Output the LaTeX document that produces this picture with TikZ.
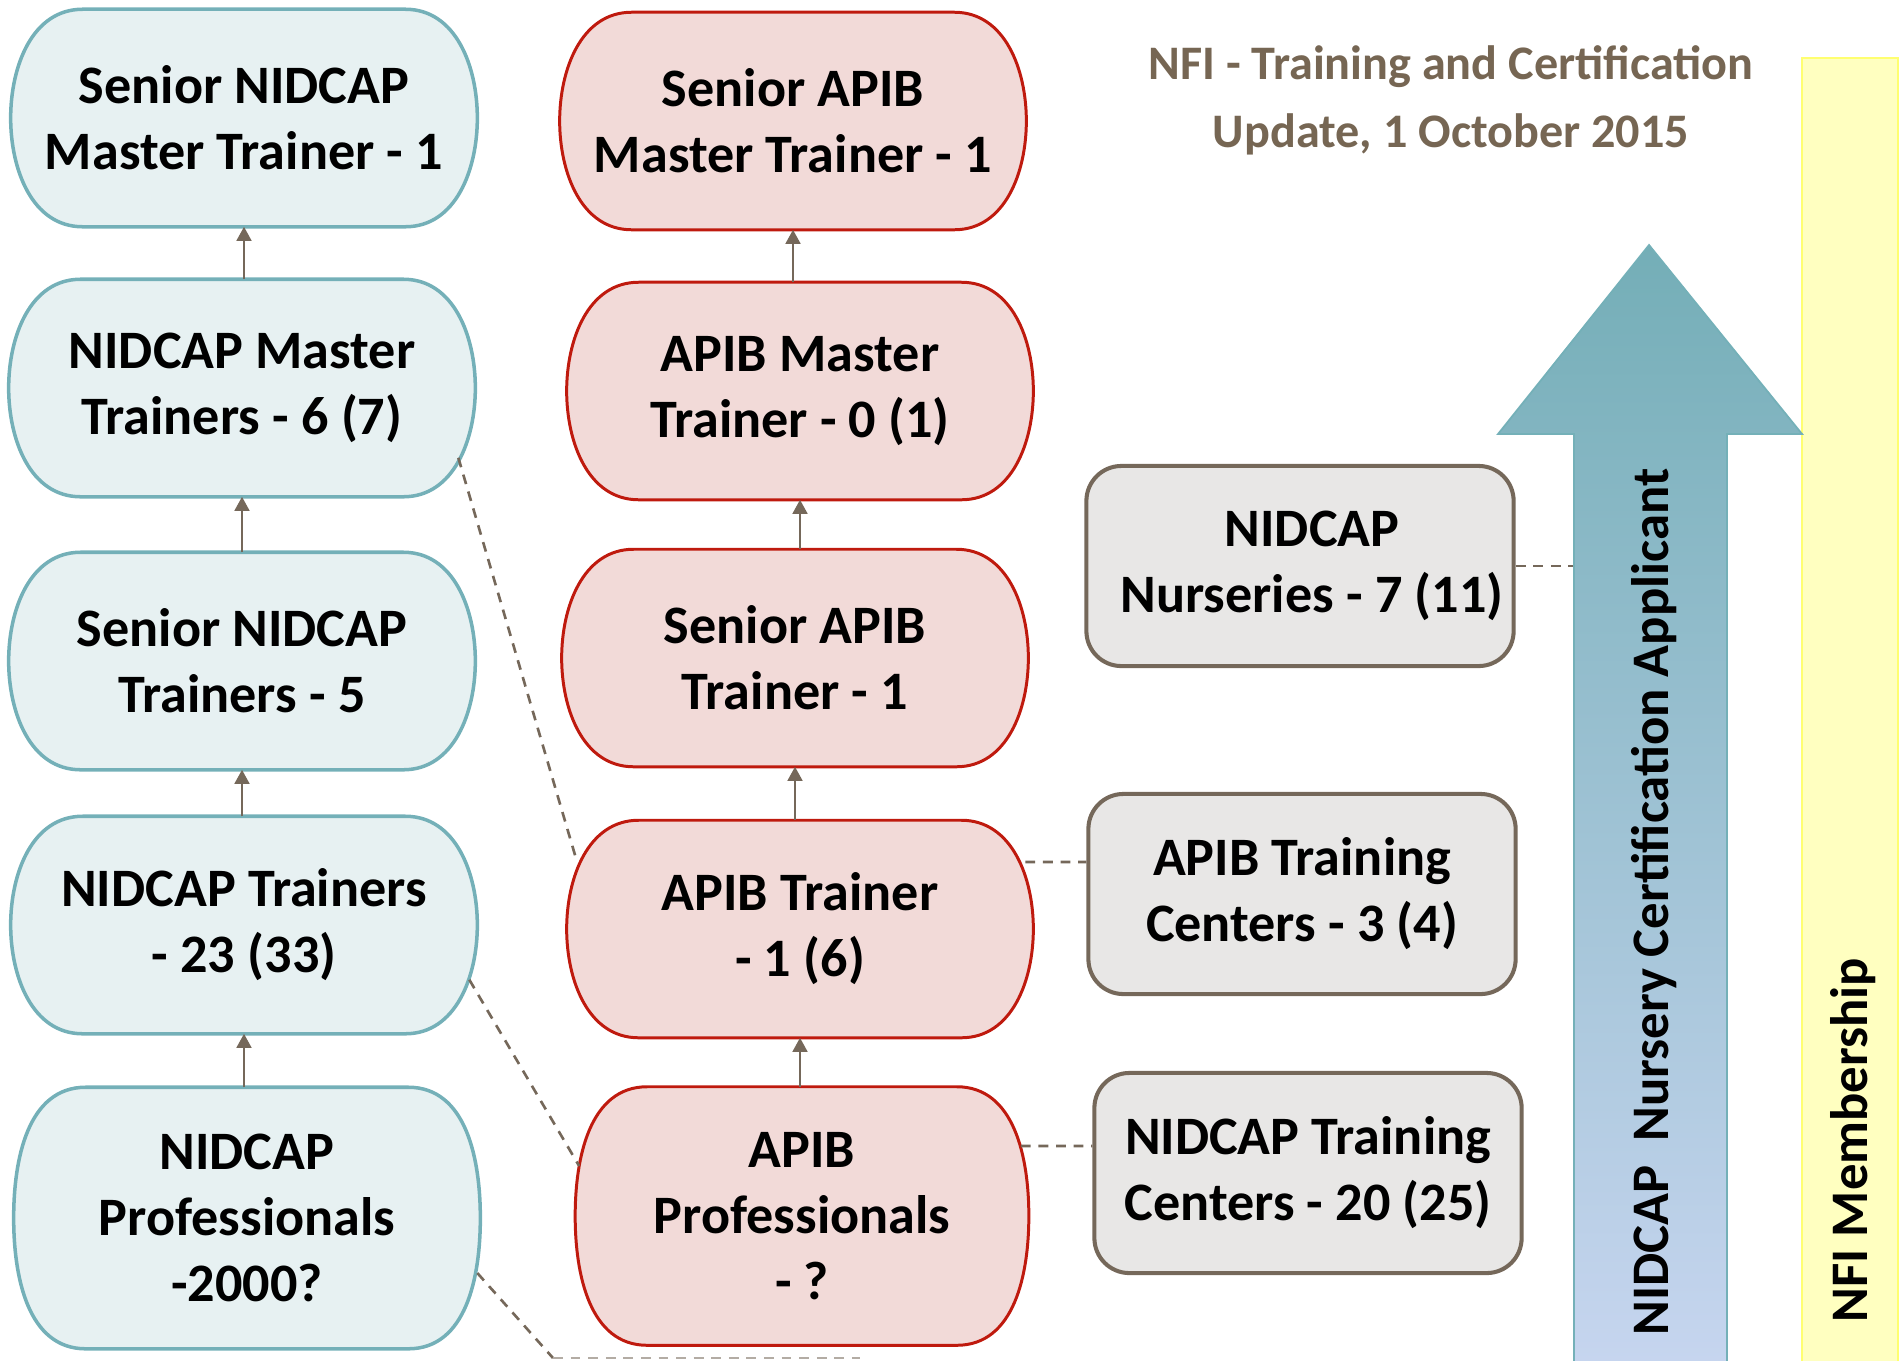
\documentclass[tikz,border=0pt]{standalone}
\usepackage{fontspec}
\setmainfont{Carlito}
\usetikzlibrary{arrows.meta,backgrounds}

\definecolor{nidcapfill}{HTML}{E7F1F2}
\definecolor{nidcapline}{HTML}{74B0B8}
\definecolor{apibfill}{HTML}{F2DAD8}
\definecolor{apibline}{HTML}{BF1A0E}
\definecolor{centrefill}{HTML}{E8E7E6}
\definecolor{centreline}{HTML}{75685A}
\definecolor{linkbrown}{HTML}{75685A}
\definecolor{titlebrown}{HTML}{766653}
\definecolor{arrowtop}{HTML}{74AEB7}
\definecolor{arrowbot}{HTML}{C6D5EF}
\definecolor{memberfill}{HTML}{FFFFC0}
\definecolor{memberline}{HTML}{FFFF70}

\tikzset{
  stage/.style={inner sep=0pt, minimum width=4.65cm, minimum height=2.16cm, align=center,
    font=\fontsize{15.4pt}{18.8pt}\selectfont\bfseries},
  nidcap/.style={fill=nidcapfill, draw=nidcapline, line width=1pt},
  apib/.style={fill=apibfill, draw=apibline, line width=0.85pt},
  centre/.style={stage, minimum width=4.27cm, minimum height=2cm, fill=centrefill,
    draw=centreline, line width=1.15pt, rounded corners=0.35cm},
  upstep/.style={draw=linkbrown, line width=0.7pt, -{Triangle[length=4pt,width=4.2pt]}},
  link/.style={draw=linkbrown, line width=0.75pt, dash pattern=on 2.8pt off 2.2pt},
  heading/.style={align=center, text=titlebrown, font=\fontsize{13.7pt}{19.3pt}\selectfont\bfseries},
  sidelabel/.style={rotate=90, font=\fontsize{15pt}{18pt}\selectfont\bfseries}
}

% flat top and bottom, curved sides
\newcommand\pillshape[2]{%
  \path[#2] ([xshift=0.72cm]#1.north west) -- ([xshift=-0.72cm]#1.north east)
    to[out=0,in=90] (#1.east) to[out=-90,in=0] ([xshift=-0.72cm]#1.south east)
    -- ([xshift=0.72cm]#1.south west) to[out=180,in=-90] (#1.west)
    to[out=90,in=180] ([xshift=0.72cm]#1.north west) -- cycle;}

\begin{document}
\begin{tikzpicture}[x=0.01cm,y=0.01cm]
	\useasboundingbox (0,0) rectangle (1904,-1360);
	
	% membership bar and certification arrow
	\draw[fill=memberfill, draw=memberline, line width=0.6pt] (1802,-58) rectangle (1898,-1362);
	\draw[top color=arrowtop, bottom color=arrowbot, draw=nidcapline, line width=0.5pt]
	(1574,-1362) -- (1574,-434) -- (1498,-434) -- (1649,-245) -- (1802,-434) -- (1727,-434) -- (1727,-1362);
	\node[sidelabel] (cert) at (1654,-902) {NIDCAP~~Nursery Certification Applicant};
	\node[sidelabel] (member) at (1853,-1140) {NFI Membership};
	\coordinate (shaft) at (1573,-1360);
	
	\node[heading] (title) at (1451,-100) {NFI - Training and Certification\\Update, 1 October 2015};
	
	% NIDCAP ladder
	\node[stage] (L1) at (244,-118) {Senior NIDCAP\\Master Trainer - 1};
	\node[stage] (L2) at (242,-388) {NIDCAP Master\\Trainers - 6 (7)};
	\node[stage] (L3) at (242,-661) {Senior NIDCAP\\Trainers - 5};
	\node[stage] (L4) at (244,-925) {NIDCAP Trainers\\- 23 (33)};
	\node[stage, minimum height=2.6cm] (L5) at (247,-1218) {NIDCAP\\Professionals\\-2000?};
	
	% APIB ladder
	\node[stage] (M1) at (793,-121) {Senior APIB\\Master Trainer - 1};
	\node[stage] (M2) at (800,-391) {APIB Master\\Trainer - 0 (1)};
	\node[stage] (M3) at (795,-658) {Senior APIB\\Trainer - 1};
	\node[stage] (M4) at (800,-929) {APIB Trainer\\- 1 (6)};
	\node[stage, minimum width=4.52cm, minimum height=2.57cm] (M5) at (802,-1216) {APIB\\Professionals\\- ?};
	
	% centres and nurseries
	\node[centre] (G1) at (1300,-566) {\hspace*{0.24cm}NIDCAP\\\hspace*{0.24cm}Nurseries - 7 (11)};
	\node[centre] (G2) at (1302,-894) {APIB Training\\Centers - 3 (4)};
	\node[centre] (G3) at (1308,-1173) {NIDCAP Training\\Centers - 20 (25)};
	
	\begin{scope}[on background layer]
		\foreach \n in {L1,L2,L3,L4,L5} \pillshape{\n}{nidcap};
		\foreach \n in {M1,M2,M3,M4,M5} \pillshape{\n}{apib};
	\end{scope}
	
	\foreach \lo/\hi in {L2/L1,L3/L2,L4/L3,L5/L4,M2/M1,M3/M2,M4/M3,M5/M4}
	\draw[upstep] (\lo.north -| \hi.south) -- (\hi.south);
	
	% dashed links
	\draw[link] ([xshift=-0.17cm,yshift=0.39cm]L2.south east) -- ([xshift=0.09cm,yshift=-0.37cm]M4.north west);
	\draw[link] ([xshift=-0.08cm,yshift=0.54cm]L4.south east) -- ([xshift=0.04cm,yshift=0.5cm]M5.west);
	\coordinate (tail) at (553,-1358);
	\coordinate (tailend) at (860,-1358);
	\draw[link] ([xshift=-0.03cm,yshift=-0.55cm]L5.east) -- (tail);
	\draw[link, draw=linkbrown!55] (tail) -- (tailend);
	\draw[link] ([xshift=-0.08cm,yshift=0.67cm]M4.east) -- ([yshift=0.32cm]G2.west);
	\draw[link] ([xshift=-0.08cm,yshift=0.7cm]M5.east) -- ([yshift=0.27cm]G3.west);
	\draw[link] (G1.east) -- (G1.east -| shaft);
\end{tikzpicture}
\end{document}
